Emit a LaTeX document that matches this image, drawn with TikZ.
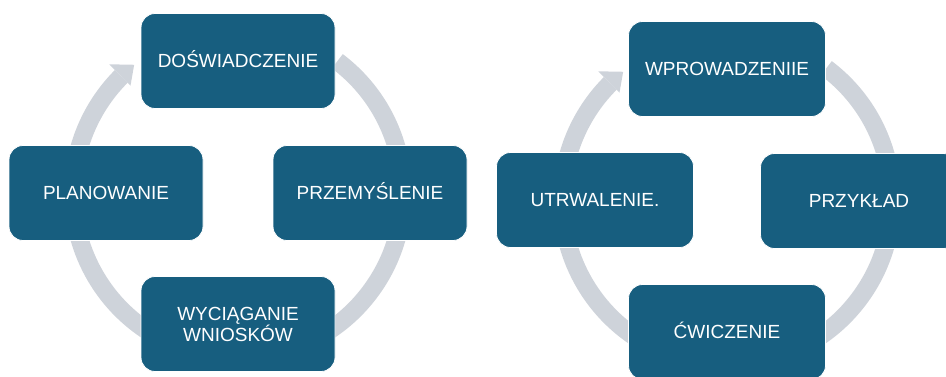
\documentclass[tikz,border=0pt]{standalone}
\usepackage{fontspec}
\setmainfont{Liberation Sans}
\usetikzlibrary{calc}
\definecolor{boxblue}{HTML}{175E7F}
\definecolor{ringgrey}{HTML}{CED3DA}
\begin{document}
\begin{tikzpicture}[x=1pt,y=-1pt,
  basebox/.style={rectangle, rounded corners=14pt, fill=boxblue, draw=white, line width=0.8pt,
    minimum width=194pt, minimum height=95pt, text=white, inner sep=0pt, align=center,
    font=\fontsize{19}{22}\selectfont},
  stepbox/.style={basebox, text height=13.7pt, text depth=0pt},
  ringline/.style={draw=ringgrey, line width=18pt},
  ringhead/.style={fill=ringgrey}]
\useasboundingbox (0,0) rectangle (946,376);
\clip (0,0) rectangle (946,376);
% left cycle
\coordinate (cA) at (238,193);
\draw[ringline] ($(cA)+(53:165pt)$) arc[start angle=53, end angle=-225, radius=165pt];
\fill[ringhead] ($(cA)+(135:182pt)$) -- ($(cA)+(129:165pt)$) -- ($(cA)+(135:152pt)$) -- cycle;
\node[stepbox] (a1) at (238,61) {DOŚWIADCZENIE};
\node[stepbox] (a2) at (370,193) {PRZEMYŚLENIE};
\node[basebox] (a3) at (238,324) {WYCIĄGANIE\\[-1pt]WNIOSKÓW};
\node[stepbox] (a4) at (106,193) {PLANOWANIE};
% right cycle
\coordinate (cB) at (727,200);
\draw[ringline] ($(cB)+(53:165pt)$) arc[start angle=53, end angle=-225, radius=165pt];
\fill[ringhead] ($(cB)+(135:182pt)$) -- ($(cB)+(129:165pt)$) -- ($(cB)+(135:152pt)$) -- cycle;
\node[stepbox, minimum width=197pt] (b1) at (727,69) {WPROWADZENIIE};
\node[stepbox, minimum width=197pt] (b2) at (859,201) {PRZYKŁAD};
\node[stepbox, minimum width=197pt] (b3) at (727,332) {ĆWICZENIE};
\node[stepbox, minimum width=197pt] (b4) at (595,200) {UTRWALENIE.};
\end{tikzpicture}
\end{document}
